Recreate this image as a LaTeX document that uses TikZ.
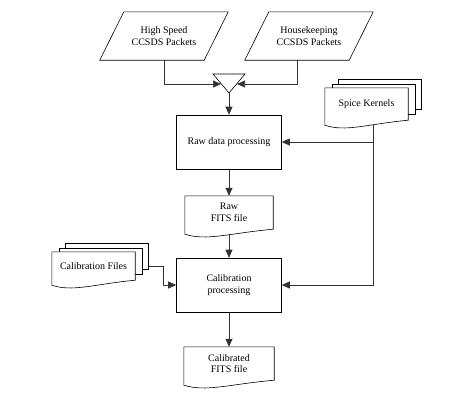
\documentclass[tikz,border=0pt]{standalone}
\usepackage{fontspec}
\setmainfont{Liberation Serif}
\usetikzlibrary{arrows.meta,calc}
\pgfdeclarelayer{wires}
\pgfdeclarelayer{sheets}
\pgfsetlayers{wires,sheets,main}

\newcommand{\slantoutline}[1]{%
    \draw[shape line] ($(#1.south west)+(-12,0)$) -- ($(#1.north west)+(12,0)$) -- ($(#1.north east)+(12,0)$) -- ($(#1.south east)+(-12,0)$) -- cycle;}
\newcommand{\docoutline}[1]{%
    \begin{pgfonlayer}{sheets}
    \filldraw[shape line,fill=white] (#1.south east) -- (#1.north east) -- (#1.north west) -- ($(#1.south west)+(0,5)$)
        .. controls ($(#1.south west)!0.25!(#1.south east)+(0,12)$) and ($(#1.south west)!0.5!(#1.south east)+(0,4)$) .. (#1.south east) -- cycle;
    \end{pgfonlayer}}
\newcommand{\sheetsbehind}[1]{%
    \begin{pgfonlayer}{sheets}
    \filldraw[shape line,fill=white] ($(#1.north west)+(13,-9)$) rectangle ($(#1.south east)+(13,-11)$);
    \filldraw[shape line,fill=white] ($(#1.north west)+(7,-4)$) rectangle ($(#1.south east)+(7,-6)$);
    \end{pgfonlayer}}

\begin{document}
\begin{tikzpicture}[x=1pt,y=-1pt,
    font=\fontsize{10}{11.5}\selectfont,
    shape line/.style={draw=black,line width=0.6pt},
    flow/.style={draw=black!80,line width=0.7pt,-{Triangle[length=8pt,width=7pt]}},
    process/.style={draw,shape line,minimum width=105pt,minimum height=54pt,align=center,inner sep=0pt},
    packets/.style={minimum width=104pt,minimum height=48pt,align=center,inner sep=0pt},
    document/.style={minimum height=33pt,align=center,inner sep=0pt}]
    \useasboundingbox (0,0) rectangle (461,408);

    \node[packets] (hs) at (164,36) {High Speed\\CCSDS Packets};
    \node[packets] (hk) at (309,36) {Housekeeping\\CCSDS Packets};
    \slantoutline{hs}
    \slantoutline{hk}

    \coordinate (merge) at (229,74);
    \coordinate (mergel) at ($(merge)+(-8,10)$);
    \coordinate (merger) at ($(merge)+(8,10)$);
    \coordinate (mergeout) at ($(merge)+(0,19)$);
    \draw[shape line] ($(merge)+(-16,0)$) -- ($(merge)+(16,0)$) -- (mergeout) -- cycle;

    \node[process] (raw) at (229,142) {Raw data processing};
    \node[process] (calib) at (229,285) {Calibration\\processing};

    \node[document,minimum width=88pt] (rawfits) at (229,212.5) {Raw\\FITS file};
    \node[document,minimum width=90pt] (calfits) at (229,363.5) {Calibrated\\FITS file};
    \node[document,minimum width=83pt,minimum height=32pt] (spice) at (366.5,104) {Spice Kernels};
    \node[document,minimum width=83pt,minimum height=28pt] (calfiles) at (93.5,266) {Calibration Files};
    \sheetsbehind{spice}
    \sheetsbehind{calfiles}
    \docoutline{rawfits}
    \docoutline{calfits}
    \docoutline{spice}
    \docoutline{calfiles}

    \coordinate (spiceout) at ([xshift=6.5pt]spice.south);
    \begin{pgfonlayer}{wires}
    \draw[flow] (hs.south) |- (mergel);
    \draw[flow] ([xshift=-12pt]hk.south) |- (merger);
    \draw[flow] (mergeout) -- (raw.north);
    \draw[flow] (raw.south) -- (rawfits.north);
    \draw[flow] (rawfits.south) -- (calib.north);
    \draw[flow] (calib.south) -- (calfits.north);
    \draw[flow] (spiceout) |- (calib.east);
    \draw[flow] (spiceout |- raw.east) -- (raw.east);
    \draw[flow] ([xshift=13pt]calfiles.east) -- ++(15,0) |- (calib.west);
    \end{pgfonlayer}
\end{tikzpicture}
\end{document}
